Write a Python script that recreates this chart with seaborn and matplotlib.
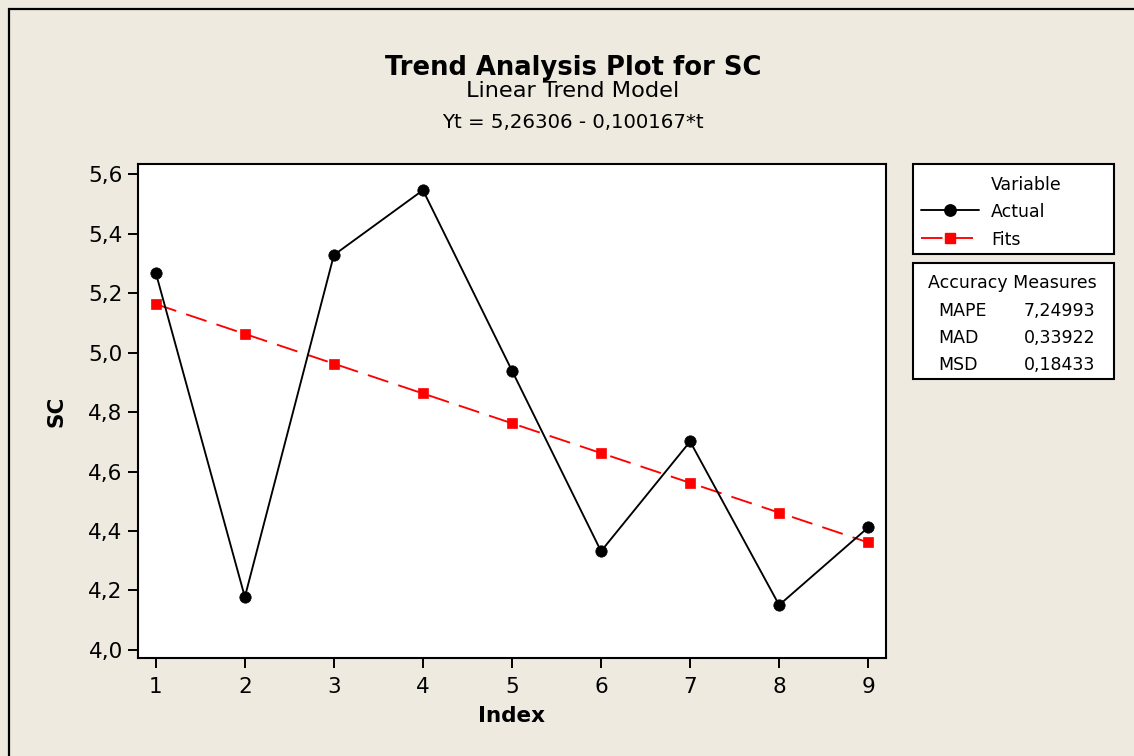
import matplotlib
matplotlib.use("Agg")
import matplotlib.pyplot as plt
import seaborn as sns
from matplotlib.patches import Rectangle
from matplotlib.lines import Line2D
from matplotlib.ticker import FuncFormatter, FixedLocator

# ---- data ----
index = [1, 2, 3, 4, 5, 6, 7, 8, 9]
actual = [5.268, 4.178, 5.328, 5.546, 4.939, 4.332, 4.701, 4.151, 4.412]
fits = [5.1629, 5.0627, 4.9626, 4.8624, 4.7622, 4.6620, 4.5619, 4.4617, 4.3615]
y_ticks = [4.0, 4.2, 4.4, 4.6, 4.8, 5.0, 5.2, 5.4, 5.6]
series_names = ["Actual", "Fits"]
measure_names = ["MAPE", "MAD", "MSD"]
measure_values = ["7,24993", "0,33922", "0,18433"]

title = "Trend Analysis Plot for SC"
subtitle = "Linear Trend Model"
equation = "Yt = 5,26306 - 0,100167*t"

# ---- style ----
sns.set_style("ticks")
plt.rcParams["font.family"] = ["DejaVu Sans"]
plt.rcParams["lines.scale_dashes"] = False
plt.rcParams["text.color"] = "black"
plt.rcParams["axes.labelcolor"] = "black"

W, H = 1134, 756
BG = "#EEEAE0"

def fx(px):
    return px / W

def fy(py):
    return 1 - py / H

fig = plt.figure(figsize=(W / 100, H / 100), dpi=100, facecolor=BG)

# outer frame of the graph window
fig.patches.append(Rectangle((fx(8.5), -0.1), 1.2, fy(8.5) + 0.1,
                             transform=fig.transFigure, fill=False,
                             ec="black", lw=1.6, zorder=0))

ax = fig.add_axes([fx(138), fy(658), fx(886) - fx(138), fy(164) - fy(658)])
ax.set_facecolor("white")

sns.lineplot(x=index, y=actual, ax=ax, color="black", marker="o",
             markersize=8.2, markeredgecolor="black", markeredgewidth=0.5,
             lw=1.35, zorder=3)
sns.lineplot(x=index, y=fits, ax=ax, color="red", marker="s",
             markersize=7.2, markeredgecolor="red", markeredgewidth=0.5,
             lw=1.35, zorder=2)
ax.lines[-1].set_dashes((15.5, 7.5))

ax.set_xlim(0.8, 9.2)
ax.set_ylim(3.973, 5.634)
ax.xaxis.set_major_locator(FixedLocator(index))
ax.yaxis.set_major_locator(FixedLocator(y_ticks))
ax.yaxis.set_major_formatter(FuncFormatter(lambda v, p: f"{v:.1f}".replace(".", ",")))
ax.xaxis.set_major_formatter(FuncFormatter(lambda v, p: f"{int(round(v))}"))

for s in ax.spines.values():
    s.set_visible(True)
    s.set_linewidth(1.5)
    s.set_color("black")
ax.tick_params(axis="both", direction="out", length=7, width=1.4,
               colors="black", labelsize=15.5, pad=4)
ax.tick_params(axis="x", pad=7)

ax.set_xlabel("Index", fontsize=15.5, fontweight="bold", color="black")
ax.set_ylabel("SC", fontsize=15.5, fontweight="bold", color="black")
ax.xaxis.set_label_coords(0.5, -0.097)
ax.yaxis.set_label_coords(-0.096, 0.5)

# ---- titles ----
cx = fx(573)
fig.text(cx, fy(75), title, ha="center", va="baseline",
         fontsize=18.6, fontweight="bold")
fig.text(cx, fy(97), subtitle, ha="center", va="baseline", fontsize=16.2)
fig.text(cx, fy(128), equation, ha="center", va="baseline", fontsize=14.2)

# ---- legend box ----
fig.patches.append(Rectangle((fx(913), fy(254)), fx(1114) - fx(913), fy(164) - fy(254),
                             transform=fig.transFigure, fc="white", ec="black",
                             lw=1.5, zorder=1))
fig.text(fx(991), fy(190), "Variable", ha="left", va="baseline", fontsize=12.5)
legend_styles = [
    dict(color="black", marker="o", markersize=8.2, dash=None, y=210, x1=979),
    dict(color="red", marker="s", markersize=7.2, dash=(15.5, 7.5), y=238, x1=973),
]
for name, st, base in zip(series_names, legend_styles, [217, 245]):
    ln = Line2D([fx(921), fx(st["x1"])], [fy(st["y"]), fy(st["y"])],
                transform=fig.transFigure, color=st["color"], lw=1.35, zorder=2)
    if st["dash"]:
        ln.set_dashes(st["dash"])
    fig.lines.append(ln)
    mk = Line2D([fx(950)], [fy(st["y"])], transform=fig.transFigure,
                color=st["color"], marker=st["marker"], markersize=st["markersize"],
                ls="none", zorder=3)
    fig.lines.append(mk)
    fig.text(fx(991), fy(base), name, ha="left", va="baseline", fontsize=12.5)

# ---- accuracy measures box ----
fig.patches.append(Rectangle((fx(913), fy(379)), fx(1114) - fx(913), fy(263) - fy(379),
                             transform=fig.transFigure, fc="white", ec="black",
                             lw=1.5, zorder=1))
fig.text(fx(928), fy(288), "Accuracy Measures", ha="left", va="baseline", fontsize=12.5)
for name, val, base in zip(measure_names, measure_values, [316, 343, 370]):
    fig.text(fx(938), fy(base), name, ha="left", va="baseline", fontsize=12.5)
    fig.text(fx(1024), fy(base), val, ha="left", va="baseline", fontsize=12.5)

fig.savefig("out.png", dpi=100, facecolor=BG)
